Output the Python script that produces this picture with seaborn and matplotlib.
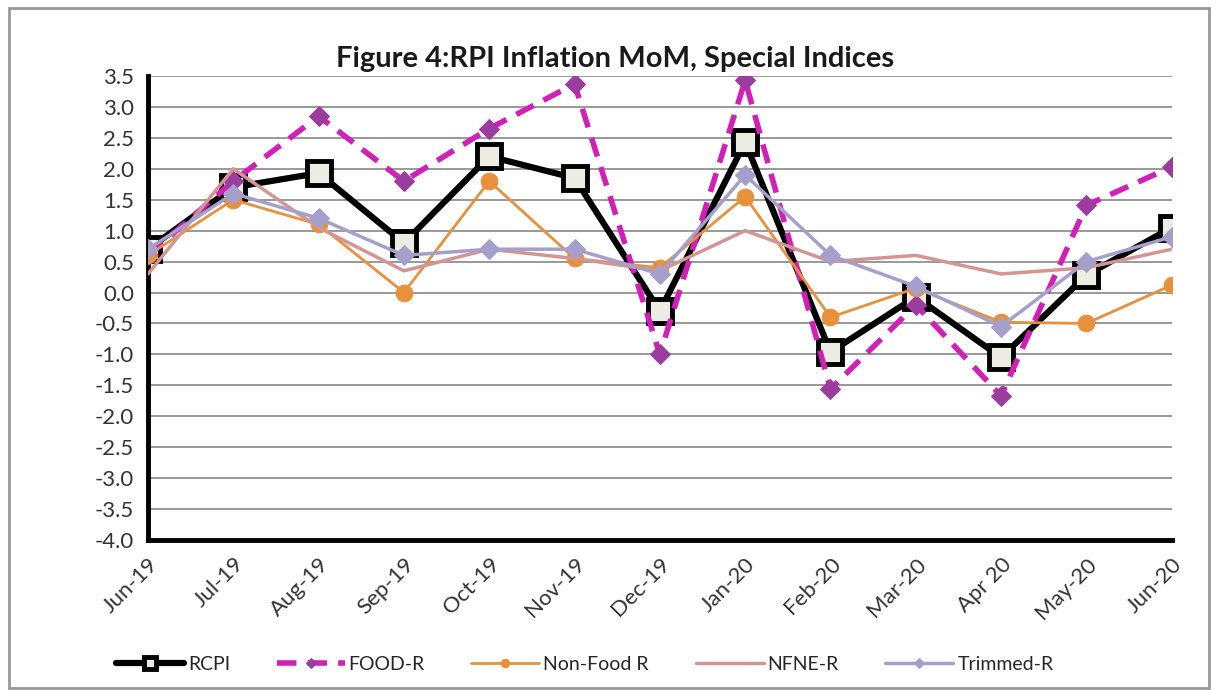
import matplotlib
matplotlib.use("Agg")
import matplotlib.pyplot as plt
import seaborn as sns
import pandas as pd
from matplotlib.patches import Rectangle

months = ["Jun-19", "Jul-19", "Aug-19", "Sep-19", "Oct-19", "Nov-19", "Dec-19",
          "Jan-20", "Feb-20", "Mar-20", "Apr 20", "May-20", "Jun-20"]
rcpi = [0.7, 1.7, 1.93, 0.8, 2.2, 1.85, -0.3, 2.43, -0.96, -0.07, -1.05, 0.28, 1.05]
food_r = [0.6, 1.8, 2.85, 1.8, 2.65, 3.37, -1.0, 3.43, -1.56, -0.2, -1.67, 1.41, 2.03]
non_food_r = [0.6, 1.5, 1.1, 0.0, 1.8, 0.55, 0.4, 1.55, -0.4, 0.07, -0.48, -0.5, 0.12]
nfne_r = [0.3, 2.0, 1.05, 0.35, 0.7, 0.55, 0.35, 1.0, 0.5, 0.6, 0.3, 0.4, 0.7]
trimmed_r = [0.7, 1.6, 1.2, 0.6, 0.7, 0.7, 0.3, 1.9, 0.6, 0.1, -0.55, 0.5, 0.9]

y_ticks = [-4.0 + 0.5 * i for i in range(16)]

sns.set_style("white")
plt.rcParams["font.family"] = ["Lato", "DejaVu Sans"]

fig = plt.figure(figsize=(12.18, 6.9), dpi=100)
fig.patches.append(Rectangle((0.007, 0.003), 0.986, 0.985, transform=fig.transFigure,
                             fill=False, edgecolor="#999999", linewidth=2))
ax = fig.add_axes([0.1215, 0.2174, 0.8405, 0.6725])

series = [
    ("RCPI", rcpi, dict(color="black", linewidth=4.5, marker="s", markersize=17,
                        markerfacecolor="#ECECE2", markeredgecolor="black",
                        markeredgewidth=3.5)),
    ("FOOD-R", food_r, dict(color="#D21FB8", linewidth=4, linestyle=(0, (3.5, 2)),
                            marker="D", markersize=10, markerfacecolor="#9A3D9E",
                            markeredgecolor="#9A3D9E")),
    ("Non-Food R", non_food_r, dict(color="#E8903C", linewidth=2, marker="o",
                                    markersize=12, markerfacecolor="#E8903C",
                                    markeredgecolor="#E8903C")),
    ("NFNE-R", nfne_r, dict(color="#D39594", linewidth=2.5)),
    ("Trimmed-R", trimmed_r, dict(color="#A49FCB", linewidth=2.5, marker="D",
                                  markersize=10, markerfacecolor="#A49FCB",
                                  markeredgecolor="#A49FCB")),
]

for z, (name, vals, style) in enumerate(series):
    df = pd.DataFrame({"month": months, "value": vals})
    sns.lineplot(data=df, x="month", y="value", ax=ax, label=name, sort=False,
                 zorder=3 + z, **style)

ax.set_xlim(0, len(months) - 1)
ax.set_ylim(-4.0, 3.5)
ax.set_yticks(y_ticks)
ax.set_yticklabels([f"{v:.1f}" for v in y_ticks], fontsize=16, color="#333333")
ax.set_xticks(range(len(months)))
ax.set_xticklabels(months, rotation=45, ha="right", rotation_mode="anchor",
                   fontsize=16, color="#333333")
ax.grid(axis="y", color="#888888", linewidth=1.2)
ax.grid(axis="x", visible=False)
ax.set_axisbelow(True)
ax.set_xlabel("")
ax.set_ylabel("")

for side in ["top", "right"]:
    ax.spines[side].set_visible(False)
for side in ["left", "bottom"]:
    ax.spines[side].set_color("black")
    ax.spines[side].set_linewidth(3.5)
ax.tick_params(axis="both", direction="out", length=6, width=3, color="black", pad=4)

fig.text(0.505, 0.915, "Figure 4:RPI Inflation MoM, Special Indices", ha="center",
         va="center", fontsize=21, fontweight="bold", color="#1a1a1a")

handles, labels = ax.get_legend_handles_labels()
ax.legend_.remove()
fig.legend(handles, labels, loc="center", bbox_to_anchor=(0.48, 0.037), ncol=5,
           frameon=False, fontsize=14, handlelength=3.5, columnspacing=2.4,
           handletextpad=0.2, markerscale=0.5)

fig.savefig("out.png", dpi=100, facecolor="white")
